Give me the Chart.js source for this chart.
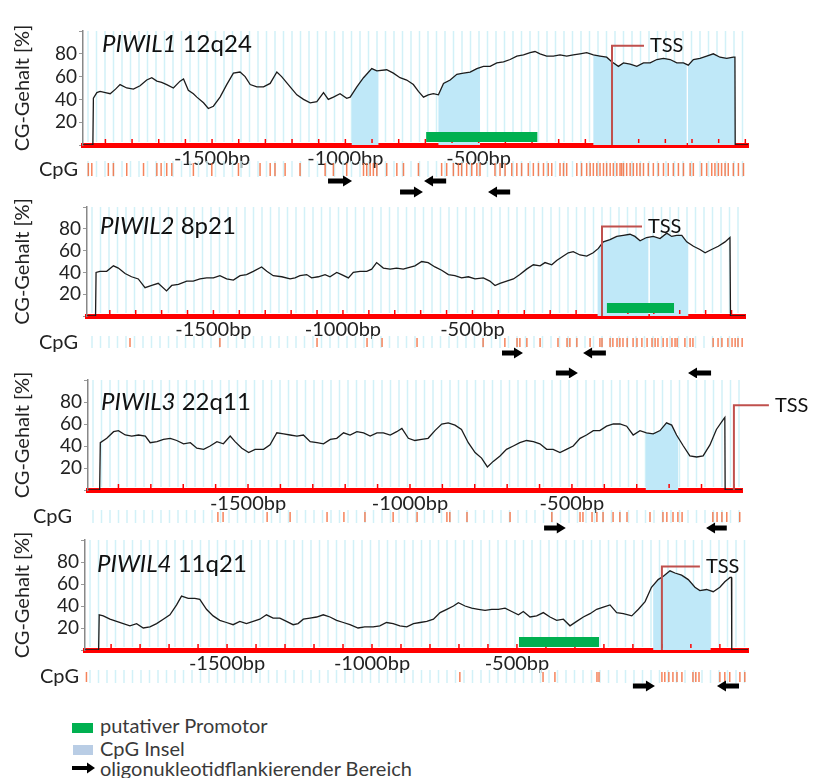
<!DOCTYPE html>
<html>
<head>
<meta charset="utf-8">
<script src="https://cdn.jsdelivr.net/npm/chart.js@4.4.1/dist/chart.umd.min.js"></script>
<style>
  body { margin: 0; background: #fff; width: 815px; height: 778px; overflow: hidden; position: relative; font-family: Lato, sans-serif; }
  canvas { position: absolute; left: 0; }
  .sw { position: absolute; }
  .lt { position: absolute; left: 100px; font: 20px Lato, sans-serif; color: #3a3a3a; line-height: 22px; white-space: nowrap; }
</style>
</head>
<body>
<canvas id="c0" width="815" height="201" style="top:6px"></canvas>
<canvas id="c1" width="815" height="196" style="top:182px"></canvas>
<canvas id="c2" width="815" height="197" style="top:355px"></canvas>
<canvas id="c3" width="815" height="197" style="top:515px"></canvas>

<div class="sw" style="left:72px;top:723px;width:21px;height:10px;background:#00b050"></div>
<div class="lt" style="top:714px">putativer Promotor</div>
<div class="sw" style="left:73px;top:745px;width:20px;height:10px;background:#b9cde5"></div>
<div class="lt" style="top:737px">CpG Insel</div>
<svg class="sw" style="left:72px;top:762px" width="24" height="12"><polygon points="0,4 15,4 15,0.5 23,6 15,11.5 15,8 0,8" fill="#000"/></svg>
<div class="lt" style="top:757px">oligonukleotidflankierender Bereich</div>

<script>
// gene names and loci
const genes = ['PIWIL1', 'PIWIL2', 'PIWIL3', 'PIWIL4'];
const loci = ['12q24', '8p21', '22q11', '11q21'];
const yTicks = [20, 40, 60, 80];
const xLabels = [-1500, -1000, -500];

// CG content [%] over position [bp]
const gcP1 = [[-1984,0],[-1947,0],[-1945,41],[-1932,46],[-1920,47],[-1900,46],[-1882,45],[-1862,49],[-1845,53],[-1820,50],[-1795,49],[-1770,52],[-1745,57],[-1726,59],[-1707,56],[-1689,55],[-1670,53],[-1645,50],[-1620,56],[-1607,58],[-1589,48],[-1570,45],[-1557,42],[-1532,37],[-1514,32],[-1495,34],[-1470,42],[-1445,53],[-1420,63],[-1395,64],[-1376,60],[-1357,53],[-1332,51],[-1307,51],[-1282,54],[-1257,64],[-1239,60],[-1207,51],[-1182,44],[-1157,40],[-1132,37],[-1107,38],[-1082,46],[-1064,40],[-1045,42],[-1020,45],[-995,41],[-982,42],[-957,51],[-932,59],[-901,67],[-882,65],[-845,66],[-820,63],[-795,59],[-770,57],[-745,53],[-726,47],[-707,42],[-689,44],[-670,45],[-651,44],[-632,54],[-607,57],[-582,62],[-557,63],[-532,64],[-507,67],[-482,69],[-457,69],[-432,72],[-407,73],[-382,75],[-357,78],[-332,79],[-307,81],[-289,82],[-270,80],[-245,78],[-220,78],[-195,79],[-170,78],[-145,79],[-120,80],[-95,81],[-70,79],[-45,78],[-20,77],[-1,73],[24,69],[43,72],[68,71],[93,69],[118,72],[143,72],[168,75],[193,76],[218,75],[243,72],[268,72],[286,70],[305,75],[330,76],[355,78],[380,80],[405,77],[430,76],[455,77],[461,77],[462,0],[510,0]];
const gcP2 = [[-1988,0],[-1955,0],[-1953,40],[-1938,41],[-1912,41],[-1886,46],[-1867,44],[-1841,39],[-1816,36],[-1790,34],[-1764,26],[-1738,28],[-1713,30],[-1681,23],[-1661,28],[-1635,29],[-1603,32],[-1578,32],[-1552,34],[-1526,35],[-1500,35],[-1475,37],[-1449,34],[-1423,33],[-1397,37],[-1372,38],[-1346,41],[-1314,45],[-1294,41],[-1269,37],[-1236,36],[-1204,34],[-1185,35],[-1166,37],[-1140,38],[-1121,35],[-1095,36],[-1069,38],[-1050,36],[-1024,40],[-1005,38],[-979,35],[-960,40],[-934,41],[-908,41],[-889,43],[-870,49],[-844,44],[-818,43],[-793,44],[-767,43],[-754,44],[-722,46],[-696,50],[-671,49],[-645,45],[-619,42],[-593,38],[-568,37],[-542,35],[-516,36],[-490,34],[-458,35],[-433,32],[-413,28],[-394,30],[-368,32],[-342,34],[-317,38],[-291,43],[-265,47],[-239,46],[-220,49],[-194,47],[-175,51],[-149,55],[-130,58],[-111,59],[-85,56],[-59,55],[-34,58],[-14,62],[5,68],[31,70],[57,73],[82,74],[108,75],[127,73],[147,69],[172,72],[198,73],[224,71],[250,76],[269,73],[288,74],[308,74],[327,68],[353,64],[378,61],[398,58],[423,61],[449,64],[475,68],[494,72],[496,0],[552,0]];
const gcP3 = [[-1994,0],[-1958,0],[-1956,43],[-1936,47],[-1915,53],[-1900,54],[-1879,50],[-1859,49],[-1838,50],[-1817,49],[-1802,43],[-1781,44],[-1761,46],[-1740,47],[-1720,45],[-1699,42],[-1678,43],[-1658,38],[-1637,37],[-1617,40],[-1596,44],[-1576,42],[-1555,49],[-1540,44],[-1519,38],[-1498,34],[-1478,37],[-1452,37],[-1432,41],[-1411,52],[-1390,51],[-1370,50],[-1349,49],[-1329,50],[-1308,44],[-1287,43],[-1267,42],[-1246,46],[-1226,47],[-1205,52],[-1185,50],[-1164,53],[-1143,52],[-1123,49],[-1102,52],[-1082,52],[-1061,50],[-1041,53],[-1025,56],[-1005,47],[-985,45],[-964,46],[-944,47],[-923,54],[-902,60],[-882,61],[-861,59],[-841,55],[-820,43],[-799,34],[-779,29],[-761,21],[-743,26],[-722,31],[-702,37],[-681,40],[-661,43],[-640,45],[-619,44],[-599,42],[-578,37],[-558,37],[-537,34],[-517,37],[-496,40],[-475,47],[-455,50],[-434,54],[-414,54],[-393,58],[-372,60],[-352,60],[-331,58],[-311,50],[-290,54],[-270,52],[-249,51],[-228,54],[-208,61],[-192,59],[-177,50],[-156,40],[-136,31],[-115,30],[-95,31],[-74,41],[-54,55],[-33,64],[-28,66],[-27,0],[25,0]];
const gcP4 = [[-1990,0],[-1943,0],[-1941,32],[-1927,31],[-1904,28],[-1881,26],[-1858,24],[-1835,22],[-1812,24],[-1789,20],[-1766,21],[-1743,24],[-1720,28],[-1697,32],[-1674,41],[-1657,49],[-1634,47],[-1611,47],[-1594,46],[-1571,37],[-1548,31],[-1525,27],[-1502,25],[-1479,23],[-1456,26],[-1433,24],[-1410,26],[-1387,28],[-1364,32],[-1341,29],[-1318,29],[-1295,26],[-1272,23],[-1255,24],[-1237,28],[-1214,29],[-1191,30],[-1168,32],[-1145,30],[-1122,27],[-1099,25],[-1076,23],[-1048,20],[-1025,21],[-996,21],[-973,22],[-950,25],[-927,24],[-904,22],[-880,21],[-857,24],[-834,25],[-811,26],[-788,28],[-765,34],[-742,37],[-719,40],[-702,43],[-679,40],[-656,38],[-633,37],[-610,36],[-587,37],[-564,37],[-541,38],[-518,35],[-495,32],[-478,35],[-455,30],[-432,31],[-409,34],[-386,30],[-363,27],[-340,28],[-317,22],[-294,26],[-271,30],[-248,33],[-225,37],[-202,39],[-179,41],[-156,34],[-133,33],[-104,31],[-81,37],[-58,44],[-36,57],[-13,64],[5,67],[28,72],[45,70],[68,68],[91,64],[114,57],[131,54],[154,55],[177,53],[200,57],[217,62],[235,66],[240,66],[241,0],[297,0]];

// CpG islands [start, end] bp
const islandsP1 = [[-976,-876],[-651,-495],[-70,280],[285,461]];
const islandsP2 = [[-17,179],[185,333]];
const islandsP3 = [[-272,-172]];
const islandsP4 = [[-30,168]];

// putative promoter [start, end] bp
const promoterP1 = [-697, -280];
const promoterP2 = [19, 278];
const promoterP3 = null;
const promoterP4 = [-493, -217];

// TSS [position bp, marker height %]
const tssP1 = [0, 87];
const tssP2 = [0, 82];
const tssP3 = [0, 77];
const tssP4 = [0, 76];

// CpG sites bp
const cpgP1 = [-1964,-1951,-1889,-1870,-1820,-1757,-1707,-1691,-1670,-1651,-1570,-1501,-1401,-1320,-1282,-1264,-1226,-1170,-1076,-1045,-995,-932,-920,-907,-895,-882,-845,-807,-782,-726,-639,-620,-595,-576,-564,-545,-526,-507,-495,-439,-420,-401,-376,-357,-339,-314,-295,-276,-257,-239,-226,-195,-182,-170,-132,-114,-95,-82,-70,-57,-45,-32,-20,-7,5,18,30,36,43,55,68,80,93,105,118,136,155,174,193,211,230,249,268,293,305,336,355,374,386,399,411,424,436,455,474,493];
const cpgP2 = [-1822,-1475,-1100,-907,-849,-714,-459,-375,-328,-317,-290,-239,-170,-135,-124,-97,-46,-8,0,31,42,58,69,81,97,120,135,154,174,193,205,216,236,251,270,282,290,320,340,351,429,448,463,486,502,514,525,541];
const cpgP3 = [-1593,-1577,-1441,-1370,-1256,-1204,-1139,-1052,-978,-886,-877,-824,-691,-562,-475,-466,-438,-423,-404,-373,-352,-330,-259,-219,-207,-188,-173,-160,-65,-52,-37,-22,18];
const cpgP4 = [-1985,-697,-410,-369,-224,-217,0,10,24,38,52,69,107,117,128,200,217,234,269,286];

// flanking oligonucleotides [start, end, direction, lane]
const arrowsP1 = [[-1065,-975,'r',1],[-795,-709,'r',2],[-705,-622,'l',1],[-465,-382,'l',2]];
const arrowsP2 = [[-386,-305,'r',1],[-73,15,'l',1],[-178,-93,'r',2],[332,421,'l',2]];
const arrowsP3 = [[-586,-519,'r',1],[-86,-22,'l',1]];
const arrowsP4 = [[-100,-24,'r',1],[190,266,'l',1]];

const gc = [gcP1, gcP2, gcP3, gcP4];
const islands = [islandsP1, islandsP2, islandsP3, islandsP4];
const promoters = [promoterP1, promoterP2, promoterP3, promoterP4];
const tss = [tssP1, tssP2, tssP3, tssP4];
const cpg = [cpgP1, cpgP2, cpgP3, cpgP4];
const arrows = [arrowsP1, arrowsP2, arrowsP3, arrowsP4];

// panel geometry (page pixels)
const layout = [
  { top: 31, bottom: 145, left: 83, right: 748, min: -1984, max: 510, canvasTop: 6, titleX: 102, titleDy: 21, cpgX: 39, cpgRow: [18, 31], lanes: [36, 47], arm: 32 },
  { top: 207, bottom: 316, left: 87, right: 745, min: -1988, max: 552, canvasTop: 182, titleX: 100, titleDy: 27, cpgX: 39, cpgRow: [22, 31], lanes: [37, 57], arm: 40 },
  { top: 380, bottom: 490, left: 88, right: 742, min: -1994, max: 25, canvasTop: 355, titleX: 101, titleDy: 30, cpgX: 33, cpgRow: [22, 32], lanes: [38, 50], arm: 35 },
  { top: 540, bottom: 650, left: 85, right: 748, min: -1990, max: 297, canvasTop: 515, titleX: 97, titleDy: 32, cpgX: 40, cpgRow: [22, 32], lanes: [36, 48], arm: 38 }
];

Chart.defaults.font.family = 'Lato';

let drawArrow = function (ctx, x1, x2, yc, right) {
  const head = 9, sh = 2.5, hh = 5.5;
  ctx.beginPath();
  if (right) {
    ctx.moveTo(x1, yc - sh); ctx.lineTo(x2 - head, yc - sh); ctx.lineTo(x2 - head, yc - hh);
    ctx.lineTo(x2, yc); ctx.lineTo(x2 - head, yc + hh); ctx.lineTo(x2 - head, yc + sh); ctx.lineTo(x1, yc + sh);
  } else {
    ctx.moveTo(x2, yc - sh); ctx.lineTo(x1 + head, yc - sh); ctx.lineTo(x1 + head, yc - hh);
    ctx.lineTo(x1, yc); ctx.lineTo(x1 + head, yc + hh); ctx.lineTo(x1 + head, yc + sh); ctx.lineTo(x2, yc + sh);
  }
  ctx.closePath();
  ctx.fill();
};

let decor = function (i) {
  const L = layout[i];
  return {
    id: 'decor' + i,
    beforeDatasetsDraw(chart) {
      const { ctx, chartArea: a, scales: { x } } = chart;
      ctx.save();
      // light cyan background stripes
      ctx.strokeStyle = '#d2f1f8';
      ctx.lineWidth = 1.5;
      for (let px = a.left + 5; px < a.right; px += 8.5) {
        ctx.beginPath();
        ctx.moveTo(px, a.top); ctx.lineTo(px, a.bottom - 3);
        ctx.moveTo(px, a.bottom + L.cpgRow[0] - 2); ctx.lineTo(px, a.bottom + L.cpgRow[1] + 1);
        ctx.stroke();
      }
      // CpG islands: area under the curve
      const pts = chart.getDatasetMeta(0).data;
      islands[i].forEach(([s, e]) => {
        const xs = x.getPixelForValue(s), xe = x.getPixelForValue(e);
        ctx.save();
        ctx.beginPath(); ctx.rect(xs, a.top, xe - xs, a.bottom - a.top); ctx.clip();
        ctx.beginPath(); ctx.moveTo(pts[0].x, a.bottom);
        pts.forEach(p => ctx.lineTo(p.x, p.y));
        ctx.lineTo(pts[pts.length - 1].x, a.bottom);
        ctx.closePath();
        ctx.fillStyle = '#bfe8f8';
        ctx.fill();
        ctx.restore();
      });
      // red minor ticks every 100 bp
      ctx.strokeStyle = '#ff0000';
      ctx.lineWidth = 1.5;
      for (let v = Math.ceil(L.min / 100) * 100; v <= L.max; v += 100) {
        const px = x.getPixelForValue(v);
        ctx.beginPath(); ctx.moveTo(px, a.bottom - 2); ctx.lineTo(px, a.bottom - 6); ctx.stroke();
      }
      // putative promoter
      const pr = promoters[i];
      if (pr) {
        ctx.fillStyle = '#00b050';
        const xs = x.getPixelForValue(pr[0]), xe = x.getPixelForValue(pr[1]);
        ctx.fillRect(xs, a.bottom - 13, xe - xs, 10);
      }
      ctx.restore();
    },
    afterDatasetsDraw(chart) {
      const { ctx, chartArea: a, scales: { x, y } } = chart;
      ctx.save();
      // TSS marker
      const tx = x.getPixelForValue(tss[i][0]), ty = y.getPixelForValue(tss[i][1]);
      ctx.strokeStyle = '#c0504d';
      ctx.lineWidth = 2;
      ctx.beginPath(); ctx.moveTo(tx, a.bottom); ctx.lineTo(tx, ty); ctx.lineTo(tx + L.arm, ty); ctx.stroke();
      ctx.fillStyle = '#111';
      ctx.font = '20px Lato';
      ctx.textBaseline = 'middle';
      ctx.fillText('TSS', tx + L.arm + 6, ty);
      // CpG sites
      ctx.strokeStyle = 'rgba(242,100,50,0.8)';
      ctx.lineWidth = 1.5;
      cpg[i].forEach(v => {
        const px = x.getPixelForValue(v);
        ctx.beginPath(); ctx.moveTo(px, a.bottom + L.cpgRow[0]); ctx.lineTo(px, a.bottom + L.cpgRow[1]); ctx.stroke();
      });
      ctx.fillStyle = '#222';
      ctx.fillText('CpG', L.cpgX, a.bottom + (L.cpgRow[0] + L.cpgRow[1]) / 2);
      // oligonucleotide arrows
      ctx.fillStyle = '#000';
      arrows[i].forEach(([s, e, dir, lane]) => {
        drawArrow(ctx, x.getPixelForValue(s), x.getPixelForValue(e), a.bottom + L.lanes[lane - 1], dir === 'r');
      });
      // gene title
      ctx.textBaseline = 'alphabetic';
      ctx.fillStyle = '#111';
      ctx.font = 'italic 24px Lato';
      ctx.fillText(genes[i], L.titleX, a.top + L.titleDy);
      const w = ctx.measureText(genes[i]).width;
      ctx.font = '24px Lato';
      ctx.fillText(' ' + loci[i], L.titleX + w, a.top + L.titleDy);
      ctx.restore();
    }
  };
};

let drawPanel = function (i) {
  const L = layout[i];
  const cv = document.getElementById('c' + i);
  const padTop = L.top - L.canvasTop;
  const axisH = cv.height - padTop - (L.bottom - L.top);
  new Chart(cv.getContext('2d'), {
    type: 'line',
    data: {
      datasets: [{
        data: gc[i].map(([bp, v]) => ({ x: bp, y: v })),
        borderColor: '#1c1c1c',
        borderWidth: 1.3,
        pointRadius: 0,
        tension: 0,
        fill: false
      }]
    },
    options: {
      responsive: false,
      animation: false,
      devicePixelRatio: 1,
      layout: { padding: { top: padTop, left: 11, right: 815 - L.right, bottom: 0 } },
      plugins: { legend: { display: false }, tooltip: { enabled: false } },
      scales: {
        x: {
          type: 'linear', min: L.min, max: L.max,
          afterBuildTicks: s => { s.ticks = xLabels.map(v => ({ value: v })); },
          ticks: { callback: v => v + 'bp', font: { size: 20 }, color: '#222', padding: 2, maxRotation: 0, autoSkip: false },
          grid: { drawOnChartArea: false, drawTicks: false },
          border: { color: '#ff0000', width: 5 },
          afterFit: s => { s.height = axisH; }
        },
        y: {
          min: 0, max: 100,
          afterBuildTicks: s => { s.ticks = [0, 20, 40, 60, 80, 100].map(v => ({ value: v })); },
          ticks: { callback: v => yTicks.includes(v) ? v : '', font: { size: 19 }, color: '#222', padding: 2, autoSkip: false },
          grid: { drawOnChartArea: false, tickLength: 4, color: '#999' },
          border: { color: '#888', width: 1.5 },
          title: { display: true, text: 'CG-Gehalt [%]', font: { size: 20 }, color: '#222', padding: 0 },
          afterFit: s => { s.width = L.left - 11; }
        }
      }
    },
    plugins: [decor(i)]
  });
};

for (let i = 0; i < 4; i++) drawPanel(i);
</script>
</body>
</html>
